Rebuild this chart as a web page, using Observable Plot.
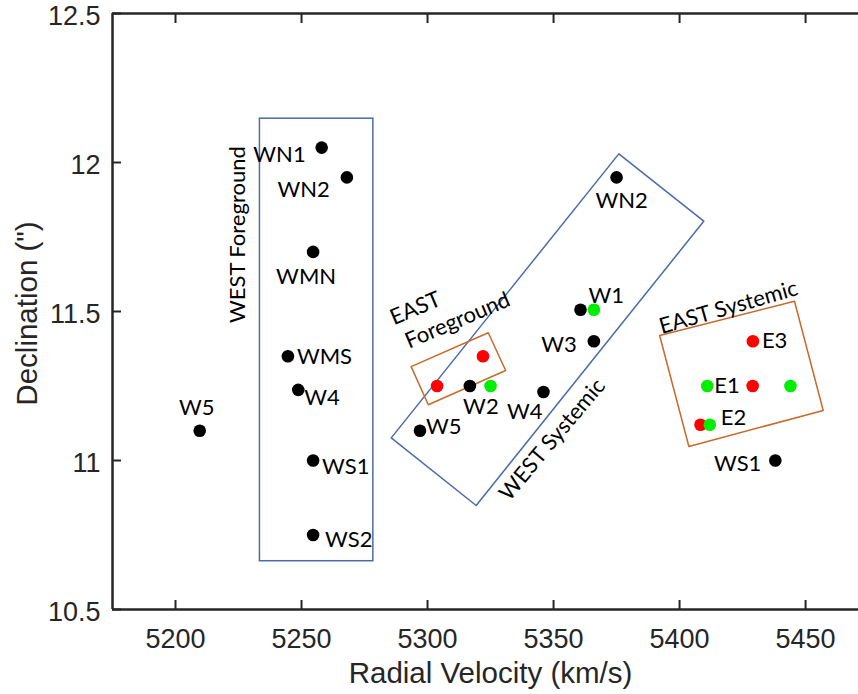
<!DOCTYPE html>
<html><head><meta charset="utf-8">
<script src="https://cdn.jsdelivr.net/npm/d3@7"></script>
<script src="https://cdn.jsdelivr.net/npm/@observablehq/plot@0.6"></script>
<style>body{margin:0;background:#fff;} svg{display:block;background:#fff;}</style>
</head><body><div id="chart"></div>
<script>
// ---- axis ticks ----
const xTicks = [5200, 5250, 5300, 5350, 5400, 5450];
const xTickLabels = ["5200", "5250", "5300", "5350", "5400", "5450"];
const yTicks = [10.5, 11, 11.5, 12, 12.5];
const yTickLabels = ["10.5", "11", "11.5", "12", "12.5"];

// ---- black points (named) ----
const blackNames = ["WN1","WN2","WMN","WMS","W4","W5","WS1","WS2","WN2","W1","W3","W2","W4","W5","WS1"];
const blackVel   = [5258, 5268, 5254.6, 5244.6, 5248.7, 5209.6, 5254.6, 5254.6, 5375, 5360.7, 5366, 5316.8, 5346, 5297, 5438];
const blackDec   = [12.05, 11.95, 11.70, 11.35, 11.237, 11.10, 11.0, 10.75, 11.95, 11.506, 11.40, 11.25, 11.23, 11.10, 11.0];
// label placement (style): [textAnchor, dx, dy]
const blackLabelPlace = [["end",-16,7],["end",-17,13],["middle",-7,25],["start",9,1],["start",6,8],["middle",-3,-23],
  ["start",9,6],["start",12,5],["middle",5,24],["start",8,-14],["end",-17,4],["middle",11,21],["end",-1,20],["start",6,-4],["end",-14,3]];

// ---- red and green points ----
const redVel   = [5322, 5303.8, 5429.1, 5429, 5408.3];
const redDec   = [11.35, 11.25, 11.40, 11.25, 11.12];
const greenVel = [5325, 5366, 5411, 5444, 5412];
const greenDec = [11.25, 11.506, 11.25, 11.25, 11.12];

// ---- E labels ----
const eNames = ["E3", "E1", "E2"];
const eVel   = [5429.1, 5411, 5412];
const eDec   = [11.40, 11.25, 11.12];
const ePlace = [[9,0],[7,0],[11,-7]];

// ---- region boxes ----
const westFgVel = [5233.5, 5278.5];
const westFgDec = [10.662, 12.147];
const westSysVel = [5375.9, 5409.6, 5319.3, 5285.6, 5375.9];
const westSysDec = [12.029, 11.803, 10.849, 11.076, 12.029];
const eastFgVel = [5293.5, 5324.1, 5331, 5300.3, 5293.5];
const eastFgDec = [11.315, 11.4285, 11.302, 11.187, 11.315];
const eastSysVel = [5392.1, 5445.6, 5457, 5403.7, 5392.1];
const eastSysDec = [11.4195, 11.5346, 11.168, 11.047, 11.4195];

// ---- region labels ----
const regionNames = ["WEST Foreground", "EAST", "Foreground", "WEST Systemic", "EAST Systemic"];
const regionVel   = [5224.6, 5295.2, 5311.9, 5349.5, 5419.4];
const regionDec   = [11.758, 11.51, 11.47, 11.07, 11.513];
const regionAngle = [-90, -23, -23, -50, -16];

const BLUE = "#4a6bab", ORANGE = "#c8692b", AX = "#262626";
const LBL = "Lato, 'Open Sans', sans-serif";
const AXF = "'Liberation Sans', Arial, Helvetica, sans-serif";
const LFS = 22;

const idx = a => a.map((_, i) => i);
const pts = (vx, dy) => vx.map((v, i) => ({v, d: dy[i]}));

const labelMarks = blackNames.map((n, i) => Plot.text([i], {
  x: j => blackVel[j], y: j => blackDec[j], text: j => blackNames[j],
  textAnchor: blackLabelPlace[i][0], dx: blackLabelPlace[i][1], dy: blackLabelPlace[i][2],
  fontSize: LFS, fontFamily: LBL, fill: "#000"
}));
const eMarks = eNames.map((n, i) => Plot.text([i], {
  x: j => eVel[j], y: j => eDec[j], text: j => eNames[j],
  textAnchor: "start", dx: ePlace[i][0], dy: ePlace[i][1],
  fontSize: LFS, fontFamily: LBL, fill: "#000"
}));

const chart = Plot.plot({
  width: 858, height: 694,
  marginLeft: 112, marginRight: 0, marginTop: 13, marginBottom: 85,
  x: {domain: [5175, 5471]},
  y: {domain: [10.5, 12.5]},
  marks: [
    Plot.rect([0], {x1: () => westFgVel[0], x2: () => westFgVel[1], y1: () => westFgDec[0], y2: () => westFgDec[1],
      fill: "none", stroke: BLUE, strokeWidth: 1.5}),
    Plot.line(pts(westSysVel, westSysDec), {x: "v", y: "d", stroke: BLUE, strokeWidth: 1.5}),
    Plot.line(pts(eastFgVel, eastFgDec), {x: "v", y: "d", stroke: ORANGE, strokeWidth: 1.5}),
    Plot.line(pts(eastSysVel, eastSysDec), {x: "v", y: "d", stroke: ORANGE, strokeWidth: 1.5}),
    Plot.dot(pts(blackVel, blackDec), {x: "v", y: "d", r: 6.3, fill: "#000"}),
    Plot.dot(pts(redVel, redDec), {x: "v", y: "d", r: 6.3, fill: "#ff0000"}),
    Plot.dot(pts(greenVel, greenDec), {x: "v", y: "d", r: 6.3, fill: "#00ee00"}),
    ...labelMarks,
    ...eMarks,
    Plot.text(idx(regionNames), {x: i => regionVel[i], y: i => regionDec[i], text: i => regionNames[i],
      rotate: i => regionAngle[i], textAnchor: "middle", lineAnchor: "middle",
      fontSize: LFS, fontFamily: LBL, fill: "#000"}),
    // frame
    Plot.ruleX([5175], {stroke: AX, strokeWidth: 2.5}),
    Plot.ruleY([10.5, 12.5], {stroke: AX, strokeWidth: 2.5}),
    // axes
    Plot.axisX(xTicks, {anchor: "bottom", tickSize: -9, tickPadding: 28, strokeWidth: 2, stroke: AX,
      fill: AX, fontSize: 27, fontFamily: AXF, label: null, tickFormat: (d, i) => xTickLabels[i]}),
    Plot.axisX(xTicks, {anchor: "top", tickSize: -9, tickFormat: () => "", strokeWidth: 2, stroke: AX, label: null}),
    Plot.axisY(yTicks, {anchor: "left", tickSize: -9, tickFormat: () => "", strokeWidth: 2, stroke: AX, label: null}),
    Plot.axisY(yTicks, {anchor: "left", tickSize: 0, tickPadding: 12, dy: 2.5,
      fill: AX, fontSize: 27, fontFamily: AXF, label: null, tickFormat: (d, i) => yTickLabels[i]}),
    // titles
    Plot.text(["Radial Velocity (km/s)"], {frameAnchor: "bottom", text: d => d, dx: 5, dy: 64,
      lineAnchor: "middle", fontSize: 29.5, fontFamily: AXF, fill: AX}),
    Plot.text(["Declination (\")"], {frameAnchor: "left", text: d => d, dx: -85, dy: 2, rotate: -90,
      lineAnchor: "middle", textAnchor: "middle", fontSize: 29.5, fontFamily: AXF, fill: AX})
  ]
});
document.getElementById("chart").appendChild(chart);
</script>
</body></html>
